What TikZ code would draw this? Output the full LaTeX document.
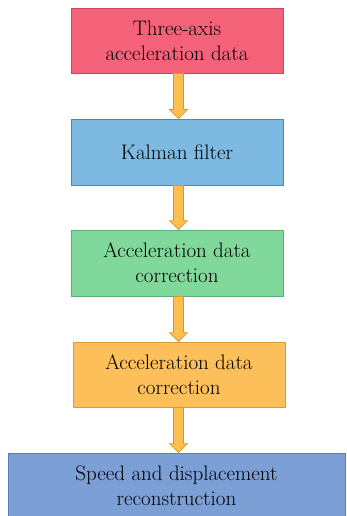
\documentclass[tikz,border=0pt]{standalone}
\usetikzlibrary{calc}
\definecolor{c1}{HTML}{F4627A}\definecolor{b1}{HTML}{C8485C}
\definecolor{c2}{HTML}{7DB9E0}\definecolor{b2}{HTML}{4F86B3}
\definecolor{c3}{HTML}{80D99A}\definecolor{b3}{HTML}{5BB07A}
\definecolor{c4}{HTML}{FDBF5A}\definecolor{b4}{HTML}{D99A3F}
\definecolor{c5}{HTML}{7C9FD6}\definecolor{b5}{HTML}{5A7DB5}
\definecolor{af}{HTML}{FDBF4F}\definecolor{ab}{HTML}{D9953B}
\newcommand{\flowarr}[2]{%
  \path[flowarrow] let \p1=(#1.south), \p2=(#2.north) in
   (173.5pt,\y1) -- (183.5pt,\y1) -- (183.5pt,\y2+9pt) -- (187.5pt,\y2+9pt)
   -- (178.5pt,\y2) -- (169.5pt,\y2+9pt) -- (173.5pt,\y2+9pt) -- cycle;}
\begin{document}
\begin{tikzpicture}[x=1pt,y=-1pt,
  box/.style={draw=#1, line width=0.8pt, inner sep=0pt, align=center,
    font=\fontsize{21}{25}\selectfont},
  flowarrow/.style={draw=ab, fill=af, line width=0.7pt, line join=miter}]
\useasboundingbox (0,0) rectangle (346,516);
\node[box=b1, fill=c1, minimum width=212pt, minimum height=65pt] (n1) at (177,40.5) {Three-axis\\acceleration data};
\node[box=b2, fill=c2, minimum width=212pt, minimum height=66pt] (n2) at (177,152) {Kalman filter};
\node[box=b3, fill=c3, minimum width=212pt, minimum height=66pt] (n3) at (177,263) {Acceleration data\\correction};
\node[box=b4, fill=c4, minimum width=212pt, minimum height=65pt] (n4) at (179,374.5) {Acceleration data\\correction};
\node[box=b5, fill=c5, minimum width=337pt, minimum height=66pt] (n5) at (176.5,486) {Speed and displacement\\reconstruction};
\flowarr{n1}{n2}
\flowarr{n2}{n3}
\flowarr{n3}{n4}
\flowarr{n4}{n5}
\end{tikzpicture}
\end{document}
